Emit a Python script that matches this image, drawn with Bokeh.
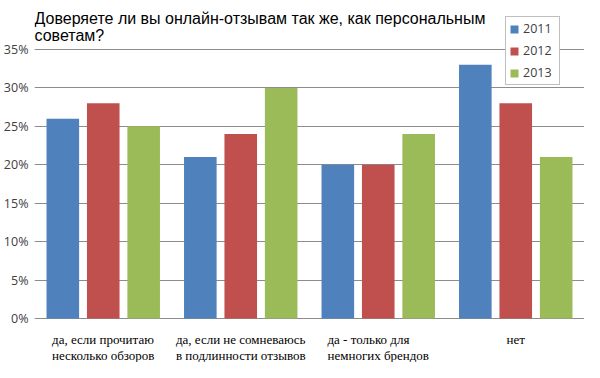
from bokeh.plotting import figure
from bokeh.models import ColumnDataSource, FactorRange, Range1d, PrintfTickFormatter, FixedTicker, Label, LabelSet
from bokeh.transform import dodge
from bokeh.embed import file_html
from bokeh.resources import INLINE

title_text = "Доверяете ли вы онлайн-отзывам так же, как персональным\nсоветам?"
categories = [
    "да, если прочитаю\nнесколько обзоров",
    "да, если не сомневаюсь\nв подлинности отзывов",
    "да - только для\nнемногих брендов",
    "нет",
]
years = ["2011", "2012", "2013"]
v2011 = [26, 21, 20, 33]
v2012 = [28, 24, 20, 28]
v2013 = [25, 30, 24, 21]
y_ticks = [0, 5, 10, 15, 20, 25, 30, 35]

colors = ["#4F81BD", "#C0504D", "#9BBB59"]
offsets = [-0.294, 0.0, 0.294]

H = 362
source = ColumnDataSource(dict(cat=categories, y2011=v2011, y2012=v2012, y2013=v2013))

p = figure(
    width=584, height=H, title=None,
    x_range=FactorRange(*categories, range_padding=0.0),
    y_range=Range1d(-5.725, 41.375),
    output_backend="svg", toolbar_location=None,
    min_border_left=29, min_border_right=0, min_border_bottom=0, min_border_top=0,
    background_fill_color="white", border_fill_color="white",
    outline_line_color=None,
)

for yr, col, off in zip(years, colors, offsets):
    p.vbar(x=dodge("cat", off, range=p.x_range), top="y" + yr, width=0.237,
           source=source, fill_color=col, line_color=None, legend_label=yr)

# title drawn inside the (extended) frame so the legend can overlap the top
title = Label(x=0, y=H - 9, x_units="screen", y_units="screen", text=title_text,
              text_font="Liberation Sans", text_font_size="16px", text_color="#000000",
              text_baseline="top", text_align="left", text_line_height=1.05)
p.add_layout(title)

# category labels under the baseline
cat_labels = LabelSet(x="cat", y=0, text="cat", source=source, y_offset=-14,
                      text_font="Liberation Sans", text_font_size="13px", text_color="#000000",
                      text_align="center", text_baseline="top", text_line_height=1.04)
p.add_layout(cat_labels)

# axes
p.yaxis.ticker = FixedTicker(ticks=y_ticks)
p.yaxis.formatter = PrintfTickFormatter(format="%d%%")
p.yaxis.axis_line_color = None
p.yaxis.major_tick_line_color = None
p.yaxis.minor_tick_line_color = None
p.yaxis.major_tick_out = 0
p.yaxis.major_tick_in = 0
p.yaxis.major_label_text_font = "Open Sans"
p.yaxis.major_label_text_font_size = "12.5px"
p.yaxis.major_label_text_color = "#404040"
p.yaxis.major_label_standoff = 6

p.xaxis.visible = False

p.xgrid.grid_line_color = None
p.ygrid.grid_line_color = "#8c8c8c"
p.ygrid.grid_line_width = 1

# legend
lg = p.legend[0]
lg.location = (471, H - 85)
lg.border_line_color = "#7f7f7f"
lg.border_line_width = 1
lg.background_fill_color = "white"
lg.background_fill_alpha = 1.0
lg.padding = 3
lg.spacing = 5
lg.margin = 0
lg.glyph_width = 10
lg.glyph_height = 10
lg.label_height = 16
lg.label_width = 33
lg.label_standoff = 4
lg.label_text_font = "Open Sans"
lg.label_text_font_size = "12.5px"
lg.label_text_color = "#404040"

open("out.html", "w").write(file_html(p, INLINE))
